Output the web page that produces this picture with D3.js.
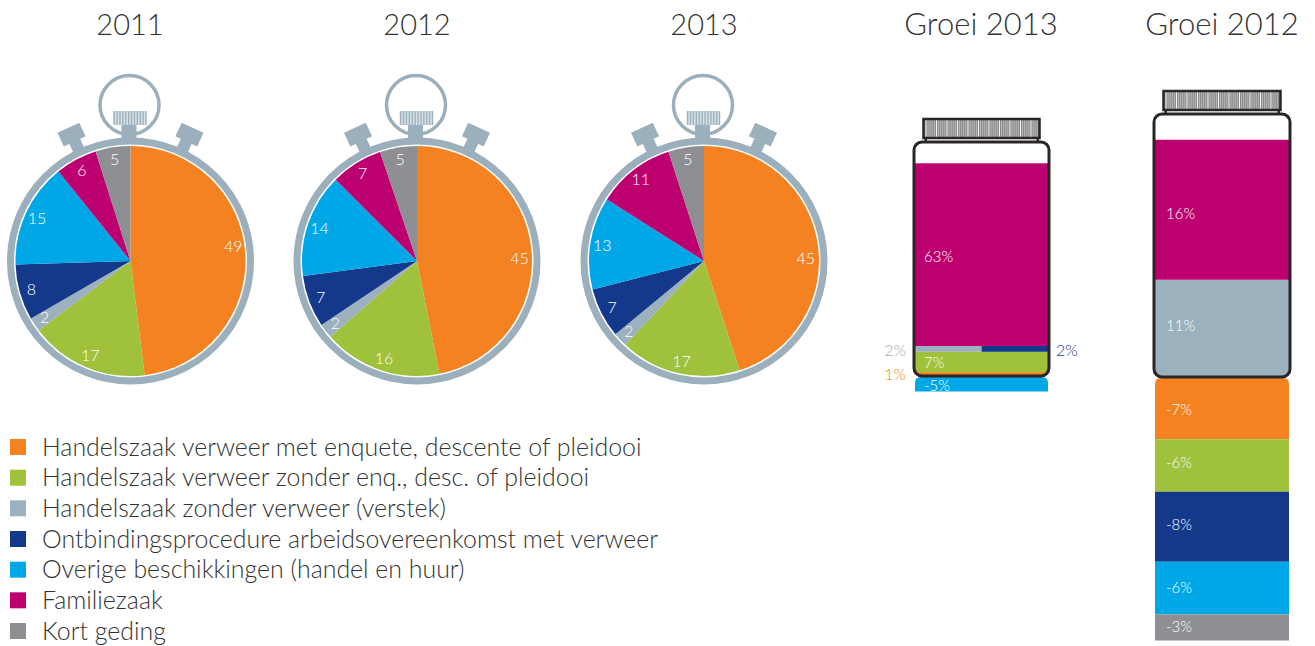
<!DOCTYPE html>
<html>
<head>
<meta charset="utf-8">
<script src="https://cdn.jsdelivr.net/npm/d3@7"></script>
<style>
  html, body { margin: 0; padding: 0; background: #fff; }
  svg { display: block; font-family: Lato, "Open Sans", sans-serif; font-weight: 300; }
</style>
</head>
<body>
<svg id="chart" width="1315" height="646"></svg>
<script>
const categories = [
  'Handelszaak verweer met enquete, descente of pleidooi',
  'Handelszaak verweer zonder enq., desc. of pleidooi',
  'Handelszaak zonder verweer (verstek)',
  'Ontbindingsprocedure arbeidsovereenkomst met verweer',
  'Overige beschikkingen (handel en huur)',
  'Familiezaak',
  'Kort geding',
]
const categoryColors = ['#f58220', '#a0c13b', '#9bb1bd', '#15398a', '#00a7e7', '#bd0070', '#8e8f93']

const years = ['2011', '2012', '2013']
const values2011 = [49, 17, 2, 8, 15, 6, 5]
const values2012 = [45, 16, 2, 7, 14, 7, 5]
const values2013 = [45, 17, 2, 7, 13, 11, 5]

// index into categories, top of the jar is drawn last
const groei2013Cats = [0, 1, 2, 3, 5, 4]
const groei2013Values = [1, 7, 2, 2, 63, -5]
const groei2012Cats = [2, 5, 0, 1, 3, 4, 6]
const groei2012Values = [11, 16, -7, -6, -8, -6, -3]

const svg = d3.select('#chart')
const metal = '#9bb0bc'
const jarLine = '#2a2627'

// titles
years.forEach((year, i) => {
  svg.append('text').attr('x', [130, 417, 704][i]).attr('y', 35)
    .attr('text-anchor', 'middle').attr('font-size', 29).attr('fill', '#333').text(year)
})
svg.append('text').attr('x', 981).attr('y', 35).attr('text-anchor', 'middle')
  .attr('font-size', 31).attr('fill', '#333').text('Groei 2013')
svg.append('text').attr('x', 1222).attr('y', 35).attr('text-anchor', 'middle')
  .attr('font-size', 31).attr('fill', '#333').text('Groei 2012')

// stopwatches
const pie = d3.pie().sort(null).value((d) => d)
const arc = d3.arc().innerRadius(0).outerRadius(115)
const labelArc = d3.arc().innerRadius(103).outerRadius(103)

function drawWatch(cx, values, firstLabelShift) {
  const g = svg.append('g').attr('transform', `translate(${cx},261)`)

  ;[-25, 25].forEach((angle) => {
    const b = g.append('g').attr('transform', `rotate(${angle})`).attr('fill', metal)
    b.append('rect').attr('x', -6).attr('y', -134).attr('width', 12).attr('height', 14)
    b.append('rect').attr('x', -12).attr('y', -147).attr('width', 24).attr('height', 15)
  })

  g.append('circle').attr('cx', -1).attr('cy', -156).attr('r', 29.5)
    .attr('fill', 'none').attr('stroke', metal).attr('stroke-width', 3.5)
  g.append('rect').attr('x', -9).attr('y', -137).attr('width', 15).attr('height', 16).attr('fill', metal)

  const knob = g.append('g')
  knob.append('rect').attr('x', -17.5).attr('y', -150).attr('width', 33).attr('height', 14).attr('fill', '#d6e0e5')
  d3.range(12).forEach((i) => {
    knob.append('rect').attr('x', -17 + i * 2.9).attr('y', -150).attr('width', 1.3).attr('height', 14).attr('fill', metal)
  })

  g.append('circle').attr('r', 120).attr('fill', '#fff').attr('stroke', metal).attr('stroke-width', 7)

  const slices = pie(values)
  g.selectAll('path.slice').data(slices).enter().append('path')
    .attr('class', 'slice').attr('d', arc)
    .attr('fill', (d, i) => categoryColors[i])

  g.selectAll('text.val').data(slices).enter().append('text')
    .attr('class', 'val')
    .attr('x', (d) => labelArc.centroid(d)[0])
    .attr('y', (d, i) => labelArc.centroid(d)[1] + (i === 0 ? firstLabelShift : 0))
    .attr('dy', '0.35em').attr('text-anchor', 'middle')
    .attr('font-size', 16).attr('fill', '#fff').text((d) => d.data)
}

drawWatch(130.5, values2011, -8)
drawWatch(417, values2012, 7)
drawWatch(704, values2013, 13)

// jars
function drawJar(o) {
  const y = d3.scaleLinear().domain([0, 1]).range([o.base, o.base - o.unit])
  const g = svg.append('g')
  const w = o.right - o.left

  // lid with its fine ribbing
  const lidX = o.left + 9.5
  const lidW = w - 19
  const lid = g.append('g')
  lid.append('rect').attr('x', lidX).attr('y', o.top - 23).attr('width', lidW).attr('height', 19)
    .attr('fill', '#8a8a8a')
  d3.range(lidX + 2, lidX + lidW - 2, 2.1).forEach((sx, i) => {
    lid.append('rect').attr('x', sx).attr('y', o.top - 22).attr('width', 0.9).attr('height', 17)
      .attr('fill', i % 5 === 0 ? '#fff' : '#bdbdbd')
  })
  lid.append('rect').attr('x', lidX).attr('y', o.top - 23).attr('width', lidW).attr('height', 19)
    .attr('fill', 'none').attr('stroke', jarLine).attr('stroke-width', 2.5)
  ;[lidX + 1, lidX + lidW - 3].forEach((x) => {
    g.append('rect').attr('x', x).attr('y', o.top - 4).attr('width', 2.5).attr('height', 4).attr('fill', jarLine)
  })

  // stacked segments
  const clipId = `clip-${o.left}`
  g.append('clipPath').attr('id', clipId).append('rect')
    .attr('x', o.left).attr('y', o.top).attr('width', w).attr('height', o.base - o.top + 1).attr('rx', 8)

  const inside = g.append('g').attr('clip-path', `url(#${clipId})`)
  const below = g.append('g')
  let up = 0
  let down = 0
  let negIndex = 0
  o.cats.forEach((cat, i) => {
    const v = o.values[i]
    const nudge = o.labelNudge[i] || 0
    if (v > 0) {
      const half = o.sideBySide && o.sideBySide.includes(cat)
      const first = half && cat === o.sideBySide[0]
      inside.append('rect')
        .attr('x', half && !first ? o.left + w / 2 : o.left)
        .attr('y', y(up + v))
        .attr('width', half ? w / 2 : w)
        .attr('height', y(up) - y(up + v))
        .attr('fill', categoryColors[cat])
      if (!half && v >= 3) {
        svg.append('text').attr('x', o.left + o.labelX).attr('y', (y(up) + y(up + v)) / 2 + nudge)
          .attr('dy', '0.35em').attr('font-size', o.fontSize).attr('fill', '#fff').text(`${v}%`)
      }
      if (!half || !first) up += v
    } else {
      const top = y(-down) + 2
      const h = y(0) - y(-v)
      if (negIndex === 0) {
        below.append('path').attr('fill', categoryColors[cat])
          .attr('d', `M${o.left + 1},${top + h}V${top + 6}q0,-6 6,-6H${o.right - 7}q6,0 6,6V${top + h}Z`)
      } else {
        below.append('rect').attr('x', o.left + 1).attr('y', top).attr('width', w - 2).attr('height', h)
          .attr('fill', categoryColors[cat])
      }
      svg.append('text').attr('x', o.left + o.labelX).attr('y', top + h / 2 + nudge)
        .attr('dy', '0.35em').attr('font-size', o.fontSize).attr('fill', '#fff').text(`${v}%`)
      down += -v
      negIndex += 1
    }
  })

  g.append('rect').attr('x', o.left).attr('y', o.top).attr('width', w).attr('height', o.base - o.top + 1)
    .attr('rx', 8).attr('fill', 'none').attr('stroke', jarLine).attr('stroke-width', 3)
}

drawJar({
  left: 914, right: 1049, top: 142, base: 375, unit: 2.9,
  cats: groei2013Cats, values: groei2013Values, sideBySide: [2, 3],
  labelNudge: [0, 1, 0, 0, 2, 1], labelX: 10, fontSize: 15,
})
drawJar({
  left: 1154, right: 1290, top: 114, base: 376, unit: 8.75,
  cats: groei2012Cats, values: groei2012Values,
  labelNudge: [-2, 4, 1, -3, -2, 0, -1], labelX: 12, fontSize: 15,
})

// side labels of the 2013 jar
function sideLabel(x, yPos, anchor, cat, value) {
  svg.append('text').attr('x', x).attr('y', yPos).attr('dy', '0.35em').attr('text-anchor', anchor)
    .attr('font-size', 16).attr('fill', categoryColors[cat]).text(`${value}%`)
}
sideLabel(906, 350, 'end', 2, groei2013Values[2])
sideLabel(906, 374, 'end', 0, groei2013Values[0])
sideLabel(1056, 350, 'start', 3, groei2013Values[3])

// legend
const legendY = d3.scalePoint().domain(categories).range([447, 631])
const legend = svg.selectAll('g.legend').data(categories).enter().append('g')
  .attr('class', 'legend').attr('transform', (d) => `translate(0,${legendY(d)})`)
legend.append('rect').attr('x', 10).attr('y', -8).attr('width', 16).attr('height', 16)
  .attr('fill', (d, i) => categoryColors[i])
legend.append('text').attr('x', 42).attr('dy', '0.35em').attr('font-size', 24.9)
  .attr('fill', '#333').text((d) => d)
</script>
</body>
</html>
